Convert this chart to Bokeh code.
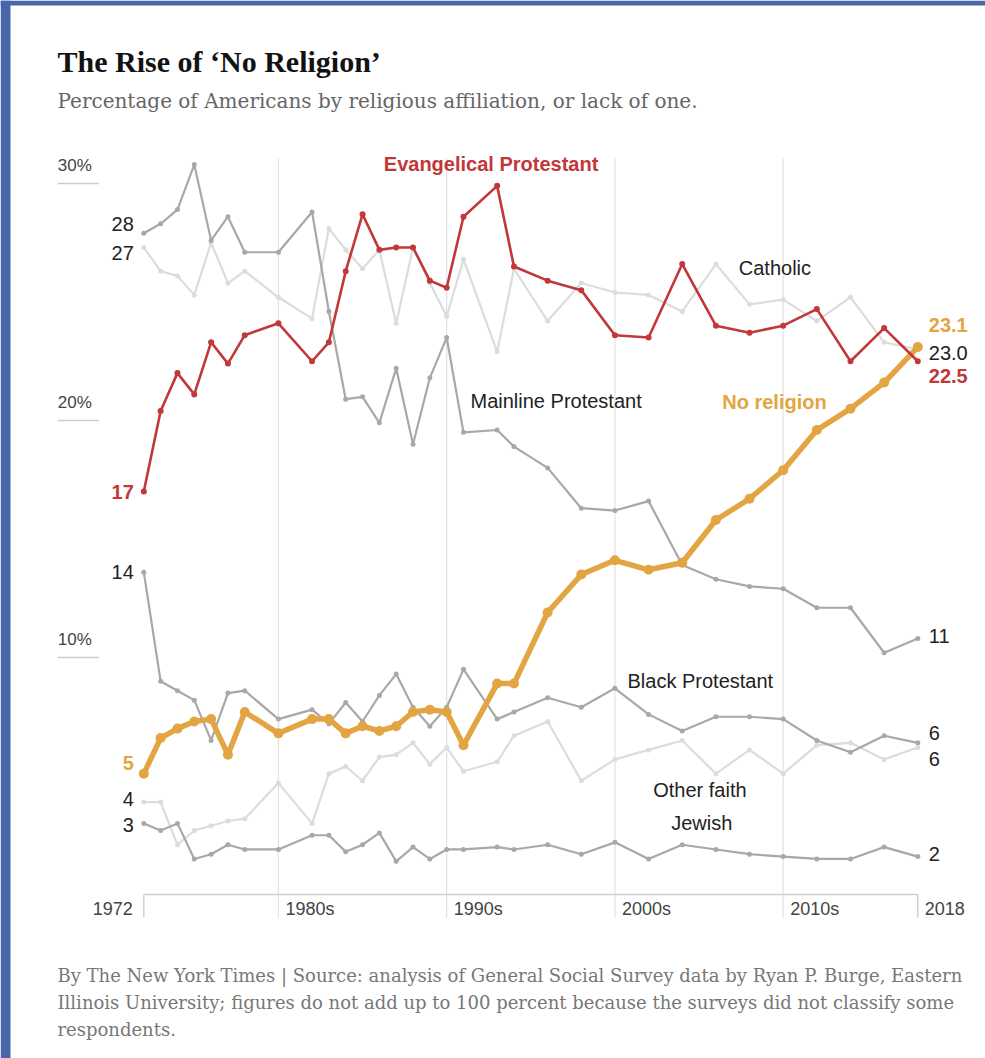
from bokeh.plotting import figure
from bokeh.models import Range1d
from bokeh.core.properties import value
from bokeh.embed import file_html
from bokeh.resources import INLINE

# ---------------- data ----------------
years = [1972, 1973, 1974, 1975, 1976, 1977, 1978, 1980, 1982, 1983, 1984, 1985,
         1986, 1987, 1988, 1989, 1990, 1991, 1993, 1994, 1996, 1998, 2000, 2002,
         2004, 2006, 2008, 2010, 2012, 2014, 2016, 2018]

evangelical = [17.0, 20.4, 22.0, 21.1, 23.3, 22.4, 23.6, 24.1, 22.5, 23.3, 26.3, 28.7,
               27.2, 27.3, 27.3, 25.9, 25.6, 28.6, 29.9, 26.5, 25.9, 25.5, 23.6, 23.5,
               26.6, 24.0, 23.7, 24.0, 24.7, 22.5, 23.9, 22.5]
catholic = [27.3, 26.3, 26.1, 25.3, 27.5, 25.8, 26.3, 25.2, 24.3, 28.1, 27.2, 26.4,
            27.2, 24.1, 27.3, 25.8, 24.4, 26.8, 22.9, 26.4, 24.2, 25.8, 25.4, 25.3,
            24.6, 26.6, 24.9, 25.1, 24.2, 25.2, 23.3, 23.0]
mainline = [27.9, 28.3, 28.9, 30.8, 27.6, 28.6, 27.1, 27.1, 28.8, 24.6, 20.9, 21.0,
            19.9, 22.2, 19.0, 21.8, 23.5, 19.5, 19.6, 18.9, 18.0, 16.3, 16.2, 16.6,
            13.9, 13.3, 13.0, 12.9, 12.1, 12.1, 10.2, 10.8]
no_religion = [5.1, 6.6, 7.0, 7.3, 7.4, 5.9, 7.7, 6.8, 7.4, 7.4, 6.8, 7.1,
               6.9, 7.1, 7.7, 7.8, 7.7, 6.3, 8.9, 8.9, 11.9, 13.5, 14.1, 13.7,
               14.0, 15.8, 16.7, 17.9, 19.6, 20.5, 21.6, 23.1]
black_protestant = [13.6, 9.0, 8.6, 8.2, 6.5, 8.5, 8.6, 7.4, 7.8, 7.2, 8.1, 7.3,
                    8.4, 9.3, 7.9, 7.1, 7.9, 9.5, 7.4, 7.7, 8.3, 7.9, 8.7, 7.6,
                    6.9, 7.5, 7.5, 7.4, 6.5, 6.0, 6.7, 6.4]
other_faith = [3.9, 3.9, 2.1, 2.7, 2.9, 3.1, 3.2, 4.7, 3.0, 5.1, 5.4, 4.8,
               5.8, 5.9, 6.4, 5.5, 6.2, 5.2, 5.6, 6.7, 7.3, 4.8, 5.7, 6.1,
               6.5, 5.1, 6.1, 5.1, 6.3, 6.4, 5.7, 6.2]
jewish = [3.0, 2.7, 3.0, 1.5, 1.7, 2.1, 1.9, 1.9, 2.5, 2.5, 1.8, 2.1,
          2.6, 1.4, 2.0, 1.5, 1.9, 1.9, 2.0, 1.9, 2.1, 1.7, 2.2, 1.5,
          2.1, 1.9, 1.7, 1.6, 1.5, 1.5, 2.0, 1.6]

pct_ticks = [10, 20, 30]
pct_labels = ["10%", "20%", "30%"]
decade_ticks = [1980, 1990, 2000, 2010]
decade_labels = ["1980s", "1990s", "2000s", "2010s"]
first_year, last_year = years[0], years[-1]

title = "The Rise of \u2018No Religion\u2019"
subtitle = "Percentage of Americans by religious affiliation, or lack of one."
footer = [
    "By The New York Times | Source: analysis of General Social Survey data by Ryan P. Burge, Eastern",
    "Illinois University; figures do not add up to 100 percent because the surveys did not classify some",
    "respondents.",
]

# ---------------- geometry ----------------
W, H = 985, 1058
PX_1972, PX_2018 = 143.3, 917.3
PY_0, PY_30 = 894.0, 183.0
ppy = (PX_2018 - PX_1972) / (last_year - first_year)
ppu = (PY_0 - PY_30) / 30.0
x_start = first_year - PX_1972 / ppy
x_end = x_start + W / ppy
y_end = PY_0 / ppu
y_start = y_end - H / ppu


def X(px):
    return x_start + px / ppy


def Y(py):
    return y_end - py / ppu


SANS = value("Liberation Sans")
SERIF = value("DejaVu Serif")
TSERIF = value("Liberation Serif")

RED = "#c1373a"
GOLD = "#e2a541"
MID = "#a8a8a8"
LIGHT = "#dcdcdc"
INK = "#222222"

p = figure(width=W, height=H, x_range=Range1d(x_start, x_end), y_range=Range1d(y_start, y_end),
           output_backend="svg", toolbar_location=None, min_border=0,
           x_axis_type=None, y_axis_type=None, outline_line_color=None,
           background_fill_color="white", border_fill_color="white")
p.grid.visible = False

# blue frame of the screenshot (decoration)
p.quad(left=[X(0), X(0)], right=[X(10), X(W)], top=[Y(0), Y(0)], bottom=[Y(H), Y(5)],
       fill_color="#4767aa", line_color=None)

# decade gridlines
grid_top, grid_bottom = Y(158), Y(917)
p.segment(x0=decade_ticks, y0=grid_bottom, x1=decade_ticks, y1=grid_top,
          line_color="#e2e2e2", line_width=1.2)
# baseline + end ticks
p.segment(x0=[first_year], y0=[0], x1=[last_year], y1=[0], line_color="#cfcfcf", line_width=1.5)
p.segment(x0=[first_year, last_year], y0=[0, 0], x1=[first_year, last_year], y1=[grid_bottom] * 2,
          line_color="#cfcfcf", line_width=1.5)

# y tick marks (short rules) and labels
p.segment(x0=X(57.3), y0=pct_ticks, x1=X(98.3), y1=pct_ticks, line_color="#cccccc", line_width=1.5)
p.text(x=X(57.3), y=pct_ticks, text=pct_labels, y_offset=-18, text_font=SANS,
       text_font_size="17px", text_color="#444444", text_align="left", text_baseline="middle")

# x labels
p.text(x=[first_year], y=[0], text=[str(first_year)], x_offset=-11, y_offset=14, text_font=SANS,
       text_font_size="18px", text_color="#444444", text_align="right", text_baseline="middle")
p.text(x=decade_ticks + [last_year], y=0, text=decade_labels + [str(last_year)], x_offset=7,
       y_offset=14, text_font=SANS, text_font_size="18px", text_color="#444444",
       text_align="left", text_baseline="middle")

# series: (values, color, width, dot size, start offset, end offset, label color, bold, decimals at end)
series = [
    (catholic, LIGHT, 2.2, 5, 6, 4, INK, False, 1),
    (other_faith, LIGHT, 2.2, 5, -3, 11, INK, False, 0),
    (mainline, MID, 2.2, 5, -9, -3, INK, False, 0),
    (black_protestant, MID, 2.2, 5, 0, -10, INK, False, 0),
    (jewish, MID, 2.2, 5, 2, -3, INK, False, 0),
    (no_religion, GOLD, 5.5, 10, -11, -22, GOLD, True, 1),
    (evangelical, RED, 2.6, 6, 0, 15, RED, True, 1),
]

for vals, col, lw, ds, so, eo, lcol, bold, dec in series:
    p.line(years, vals, line_color=col, line_width=lw, line_join="round", line_cap="round")
    p.scatter(years, vals, size=ds, fill_color=col, line_color=None)
    style = "bold" if bold else "normal"
    p.text(x=[years[0]], y=[vals[0]], text=[f"{round(vals[0])}"], x_offset=-10, y_offset=so,
           text_font=SANS, text_font_size="20px", text_font_style=style, text_color=lcol,
           text_align="right", text_baseline="middle")
    end_txt = f"{vals[-1]:.1f}" if dec else f"{round(vals[-1])}"
    p.text(x=[years[-1]], y=[vals[-1]], text=[end_txt], x_offset=11, y_offset=eo,
           text_font=SANS, text_font_size="20px", text_font_style=style, text_color=lcol,
           text_align="left", text_baseline="middle")

# series names
names = [
    ("Evangelical Protestant", 383.3, 163, RED, "bold"),
    ("Catholic", 738.3, 267.5, INK, "normal"),
    ("Mainline Protestant", 470, 400.5, INK, "normal"),
    ("No religion", 721.7, 401, GOLD, "bold"),
    ("Black Protestant", 627, 680.5, INK, "normal"),
    ("Other faith", 652.7, 789, INK, "normal"),
    ("Jewish", 670.7, 822.5, INK, "normal"),
]
for txt, nx, ny, col, st in names:
    p.text(x=[X(nx)], y=[Y(ny)], text=[txt], text_font=SANS, text_font_size="20px",
           text_font_style=st, text_color=col, text_align="left", text_baseline="middle")

# title, subtitle, footer
p.text(x=[X(57)], y=[Y(61)], text=[title], text_font=TSERIF, text_font_size="30px",
       text_font_style="bold", text_color="#121212", text_align="left", text_baseline="middle")
p.text(x=[X(57)], y=[Y(100)], text=[subtitle], text_font=SERIF, text_font_size="20px",
       text_color="#666666", text_align="left", text_baseline="middle")
for i, line in enumerate(footer):
    p.text(x=[X(57)], y=[Y(975 + 27 * i)], text=[line], text_font=SERIF, text_font_size="18px",
           text_color="#777777", text_align="left", text_baseline="middle")

open("out.html", "w").write(file_html(p, INLINE))
